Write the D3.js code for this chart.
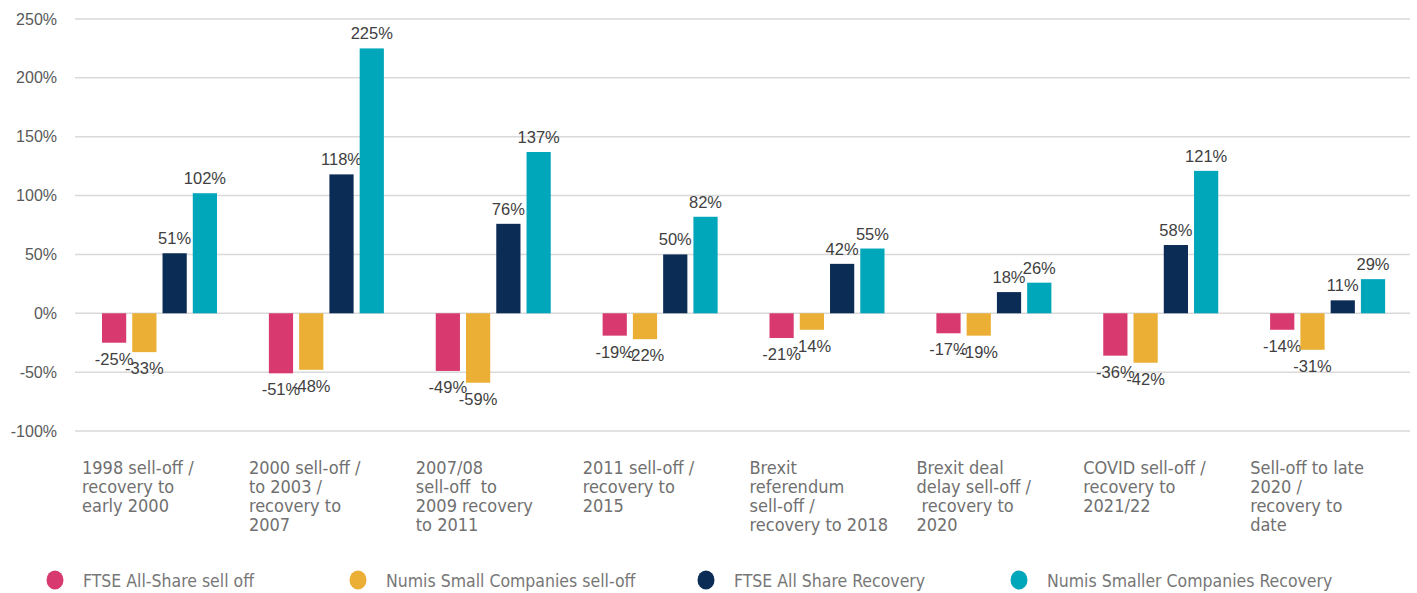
<!DOCTYPE html>
<html>
<head>
<meta charset="utf-8">
<script src="https://cdn.jsdelivr.net/npm/d3@7"></script>
<style>
  body { margin: 0; background: #fff; }
  svg { display: block; }
</style>
</head>
<body>
<svg id="chart" width="1417" height="593"></svg>
<script>
// data
var categories = [
  ["1998 sell-off /", "recovery to", "early 2000"],
  ["2000 sell-off /", "to 2003 /", "recovery to", "2007"],
  ["2007/08", "sell-off  to", "2009 recovery", "to 2011"],
  ["2011 sell-off /", "recovery to", "2015"],
  ["Brexit", "referendum", "sell-off /", "recovery to 2018"],
  ["Brexit deal", "delay sell-off /", " recovery to", "2020"],
  ["COVID sell-off /", "recovery to", "2021/22"],
  ["Sell-off to late", "2020 /", "recovery to", "date"]
];
var seriesNames = ["FTSE All-Share sell off", "Numis Small Companies sell-off", "FTSE All Share Recovery", "Numis Smaller Companies Recovery"];
var ftseSellOff = [-25, -51, -49, -19, -21, -17, -36, -14];
var numisSellOff = [-33, -48, -59, -22, -14, -19, -42, -31];
var ftseRecovery = [51, 118, 76, 50, 42, 18, 58, 11];
var numisRecovery = [102, 225, 137, 82, 55, 26, 121, 29];
var yTicks = [-100, -50, 0, 50, 100, 150, 200, 250];
var colors = ["#d83a6f", "#ebaf35", "#0b2c55", "#00a6ba"];

var series = [ftseSellOff, numisSellOff, ftseRecovery, numisRecovery];

var svg = d3.select("#chart");
var plotLeft = 75, plotRight = 1410, plotTop = 19, plotBottom = 431;

var x = d3.scaleBand().domain(d3.range(categories.length)).range([plotLeft, plotRight]);
var inner = d3.scaleBand().domain(d3.range(series.length)).range([27, 142]).paddingInner(0.2);
var y = d3.scaleLinear().domain([-100, 250]).range([plotBottom, plotTop]);

// gridlines
svg.append("g")
  .selectAll("line")
  .data(yTicks)
  .join("line")
  .attr("x1", plotLeft)
  .attr("x2", plotRight)
  .attr("y1", d => y(d))
  .attr("y2", d => y(d))
  .style("stroke", "#d9d9d9")
  .style("stroke-width", 1.5);

// y axis labels
var yAxis = svg.append("g")
  .attr("transform", `translate(${plotLeft - 15},0)`)
  .call(d3.axisLeft(y).tickValues(yTicks).tickSize(0).tickFormat(d => d + "%"));
yAxis.select(".domain").remove();
yAxis.selectAll("text")
  .style("font-family", "Liberation Sans, Arial, sans-serif")
  .style("font-size", "16px")
  .style("fill", "#595959");

// bars
series.forEach(function (vals, s) {
  var g = svg.append("g");
  g.selectAll("rect")
    .data(vals)
    .join("rect")
    .attr("x", (d, i) => x(i) + inner(s))
    .attr("width", inner.bandwidth())
    .attr("y", d => y(Math.max(0, d)))
    .attr("height", d => Math.abs(y(d) - y(0)))
    .style("fill", colors[s]);

  g.selectAll("text")
    .data(vals)
    .join("text")
    .attr("x", (d, i) => x(i) + inner(s) + inner.bandwidth() / 2)
    .attr("y", d => d < 0 ? y(d) + 22 : y(d) - 9)
    .style("text-anchor", "middle")
    .style("font-family", "Liberation Sans, Arial, sans-serif")
    .style("font-size", "16.5px")
    .style("fill", "#404040")
    .text(d => d + "%");
});

// category labels
var cat = svg.append("g")
  .selectAll("text")
  .data(categories)
  .join("text")
  .attr("x", (d, i) => x(i) + 7)
  .attr("y", 474)
  .style("font-family", "'Liberation Sans Narrow', 'DejaVu Sans Condensed', sans-serif")
  .style("font-size", "18px")
  .style("fill", "#707070");
cat.selectAll("tspan")
  .data(d => d)
  .join("tspan")
  .attr("x", function () { return d3.select(this.parentNode).attr("x"); })
  .attr("dy", (d, i) => i === 0 ? 0 : 19)
  .style("white-space", "pre")
  .text(d => d);

// legend
var legendX = [55, 358, 706, 1019];
var legend = svg.append("g")
  .selectAll("g")
  .data(seriesNames)
  .join("g")
  .attr("transform", (d, i) => `translate(${legendX[i]}, 580)`);
legend.append("ellipse")
  .attr("rx", 8.5)
  .attr("ry", 9.5)
  .style("fill", (d, i) => colors[i]);
legend.append("text")
  .attr("x", 28)
  .attr("y", 6.5)
  .style("font-family", "'Liberation Sans Narrow', 'DejaVu Sans Condensed', sans-serif")
  .style("font-size", "17.5px")
  .style("fill", "#777")
  .text(d => d);
</script>
</body>
</html>
